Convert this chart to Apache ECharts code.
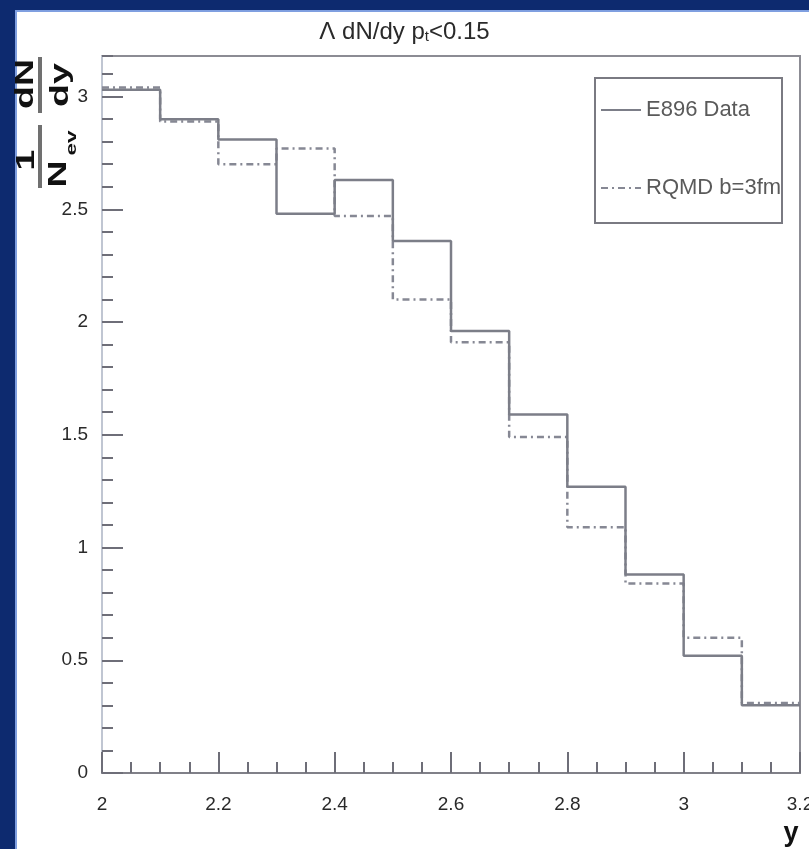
<!DOCTYPE html>
<html><head><meta charset="utf-8">
<script src="https://cdn.jsdelivr.net/npm/echarts@6/dist/echarts.min.js"></script>
<style>
html,body{margin:0;padding:0;width:809px;height:849px;overflow:hidden;background:#0d2a6f;}
#panel{position:absolute;left:15px;top:10px;width:794px;height:839px;background:#fff;border-left:2px solid #7f9fe0;border-top:2px solid #7f9fe0;box-sizing:border-box;}
#chart{position:absolute;left:0;top:0;width:809px;height:849px;}
</style></head><body>
<div id="panel"></div>
<div id="chart"></div>
<script>
// bin edges (y, rapidity)
const binEdges = [2.0, 2.1, 2.2, 2.3, 2.4, 2.5, 2.6, 2.7, 2.8, 2.9, 3.0, 3.1, 3.2];
// E896 data (solid)
const e896 = [3.03, 2.90, 2.81, 2.48, 2.63, 2.36, 1.96, 1.59, 1.27, 0.88, 0.52, 0.30];
// RQMD b=3fm (dash-dot)
const rqmd = [3.04, 2.89, 2.70, 2.77, 2.47, 2.10, 1.91, 1.49, 1.09, 0.84, 0.60, 0.31];
const xTickLabels = ['2', '2.2', '2.4', '2.6', '2.8', '3', '3.2'];
const yTickLabels = ['0', '0.5', '1', '1.5', '2', '2.5', '3'];
const seriesNames = ['E896 Data', 'RQMD b=3fm'];

function stepData(vals) {
  const d = vals.map((v, i) => [binEdges[i], v]);
  d.push([binEdges[vals.length], vals[vals.length - 1]]);
  return d;
}

const SANS = "'Liberation Sans',Arial,sans-serif";
const tickColor = '#6e6e78';

const chart = echarts.init(document.getElementById('chart'), null, {renderer: 'canvas'});

function tx(text, x, y, size, extra) {
  return Object.assign({
    type: 'text', x: x, y: y, scaleX: 1.5,
    style: {text: text, fontSize: size, fontWeight: 'bold', fontFamily: SANS, fill: '#111', align: 'center', verticalAlign: 'middle'}
  }, extra || {});
}

chart.setOption({
  backgroundColor: 'transparent',
  animation: false,
  title: {
    text: 'Λ dN/dy p{s|t}<0.15',
    left: 'center', top: 20, padding: 0,
    textStyle: {
      fontSize: 24, fontWeight: 'normal', fontFamily: SANS, color: '#2a2a2a', lineHeight: 24, verticalAlign: 'top',
      rich: {s: {fontSize: 15, lineHeight: 15, padding: [16, 0, 0, 0], verticalAlign: 'bottom', fontFamily: SANS, color: '#2a2a2a'}}
    }
  },
  legend: {
    left: 600, top: 99, orient: 'vertical', itemWidth: 40, itemHeight: 22, itemGap: 56, padding: 0,
    selectedMode: false, data: seriesNames,
    itemStyle: {opacity: 0},
    textStyle: {fontSize: 22, fontFamily: SANS, color: '#5a5a5a', lineHeight: 22}
  },
  grid: {left: 102, right: 9, top: 56, bottom: 76, show: true, borderColor: '#8c8c94', borderWidth: 2,
    backgroundColor: 'transparent', containLabel: false, outerBoundsMode: 'none'},
  xAxis: {
    type: 'value', min: 2, max: 3.2, interval: 0.2,
    axisLine: {show: true, lineStyle: {color: '#808088', width: 2}},
    axisTick: {show: true, inside: true, length: 21, lineStyle: {color: tickColor, width: 2}},
    minorTick: {show: true, splitNumber: 4, length: 11, lineStyle: {color: tickColor, width: 2}},
    splitLine: {show: false},
    axisLabel: {margin: 22, fontSize: 19, fontFamily: SANS, color: '#2a2a2a',
      formatter: v => xTickLabels[Math.round((v - 2) / 0.2)] || ''}
  },
  yAxis: [{
    type: 'value', min: 0, max: 3.18, interval: 0.5,
    axisLine: {show: true, lineStyle: {color: '#c0c6d2', width: 2}},
    axisTick: {show: true, inside: true, length: 21, lineStyle: {color: tickColor, width: 2}},
    splitLine: {show: false},
    axisLabel: {margin: 14, fontSize: 19, fontFamily: SANS, color: '#2a2a2a', showMaxLabel: false,
      formatter: v => { const i = Math.round(v / 0.5); return Math.abs(v - i * 0.5) < 1e-6 ? (yTickLabels[i] || '') : ''; }}
  }, {
    type: 'value', min: 0, max: 3.18, interval: 0.1, position: 'left',
    axisLine: {show: false},
    axisTick: {show: true, inside: true, length: 11, lineStyle: {color: tickColor, width: 2}},
    axisLabel: {show: false},
    splitLine: {show: false}
  }],
  series: [{
    type: 'line', name: seriesNames[0], data: stepData(e896), step: 'end', symbol: 'none',
    lineStyle: {color: '#7c7e88', width: 2.5}, itemStyle: {color: '#7c7e88'}, z: 3
  }, {
    type: 'line', name: seriesNames[1], data: stepData(rqmd), step: 'end', symbol: 'none',
    lineStyle: {color: '#868894', width: 2.5, type: [7, 4, 2, 4]}, itemStyle: {color: '#868894'}, z: 2
  }],
  graphic: [
    {type: 'rect', shape: {x: 595, y: 78, width: 187, height: 145}, style: {fill: 'none', stroke: '#7a7a82', lineWidth: 2}, z: 10},
    {type: 'text', x: 791, y: 834, style: {text: 'y', fontSize: 27, fontWeight: 'bold', fontFamily: SANS, fill: '#111', align: 'center', verticalAlign: 'middle'}, z: 10},
    {type: 'group', x: 40, y: 190, rotation: Math.PI / 2, z: 10, children: [
      tx('1', 30, -13, 25),
      {type: 'line', shape: {x1: 2, y1: 0, x2: 65, y2: 0}, style: {stroke: '#707070', lineWidth: 4}},
      tx('N', 16, 19, 25),
      tx('ev', 47, 32, 15),
      tx('dN', 106, -14, 25),
      {type: 'line', shape: {x1: 77, y1: 0, x2: 133, y2: 0}, style: {stroke: '#707070', lineWidth: 4}},
      tx('dy', 105, 21, 25)
    ]}
  ]
});
</script>
</body></html>
